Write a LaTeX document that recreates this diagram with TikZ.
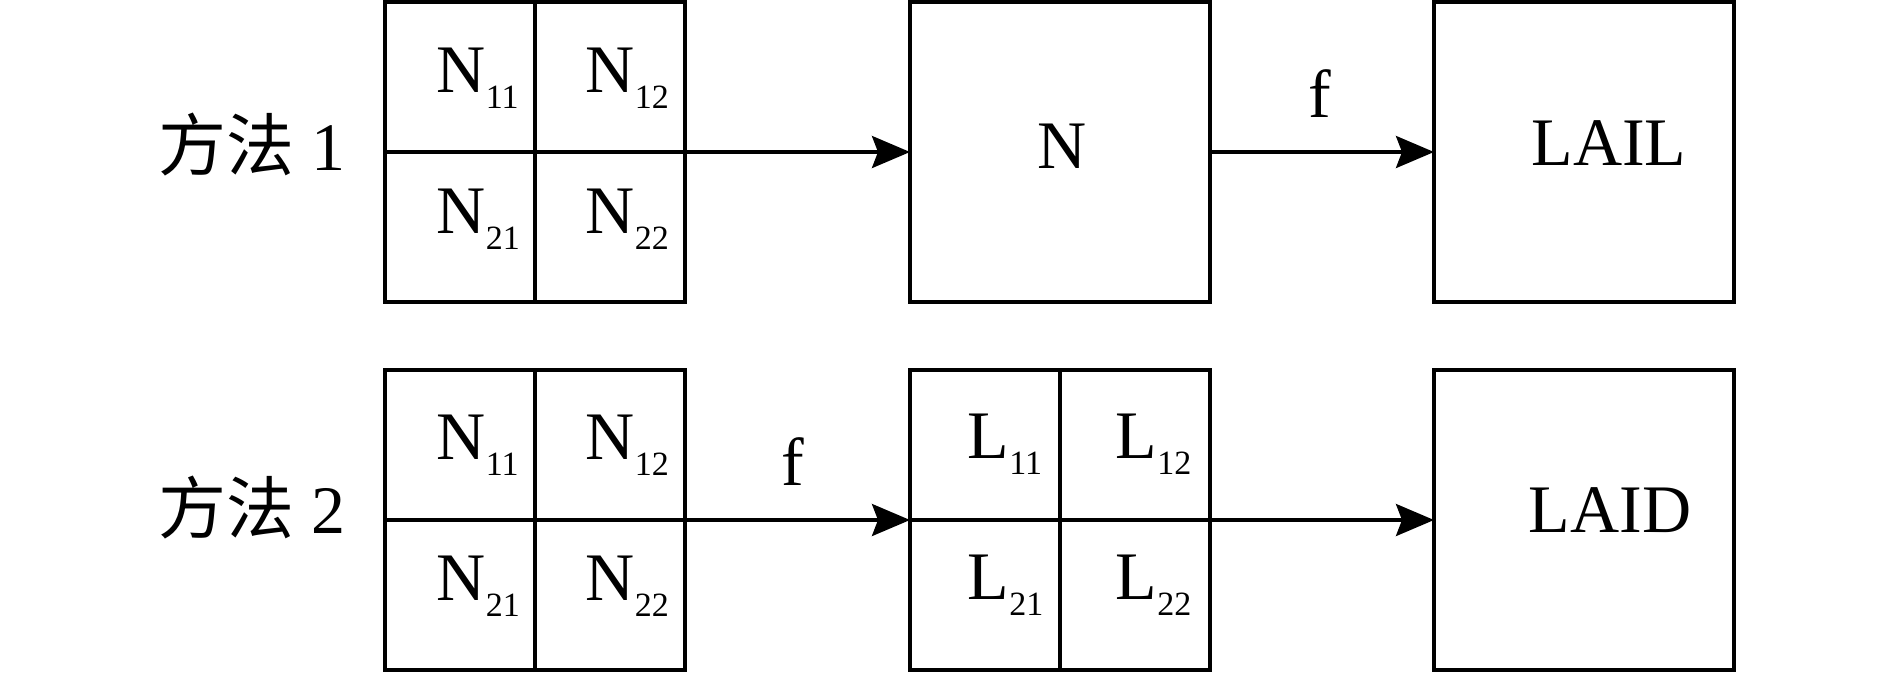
\documentclass[tikz,border=0pt]{standalone}
\usepackage{fontspec}
\setmainfont{Liberation Serif}
\newfontfamily\cjk{Noto Sans CJK SC}
\usetikzlibrary{arrows.meta}
\newcommand{\subs}[1]{\raisebox{-8pt}{\fontsize{17}{17}\selectfont #1}}
\begin{document}
\begin{tikzpicture}[x=0.5pt,y=-0.5pt,line width=1.75pt,
  box/.style={draw,minimum width=150pt,minimum height=150pt,inner sep=0pt,outer sep=0pt},
  lbl/.style={inner sep=0pt,anchor=base west,font=\fontsize{34}{40}\selectfont},
  ctr/.style={inner sep=0pt,anchor=base,font=\fontsize{34}{40}\selectfont},
  arr/.style={-{Stealth[length=19pt,width=16pt,inset=3pt]}}]
\useasboundingbox (0,0) rectangle (1890,676);
% boxes
\node[box] (g1) at (535,152) {};
\node[box] (nb) at (1060,152) {};
\node[box] (lail) at (1584,152) {};
\node[box] (g2) at (535,520) {};
\node[box] (lg) at (1060,520) {};
\node[box] (laid) at (1584,520) {};
% grid dividers
\draw (g1.north) -- (g1.south);
\draw (g1.west) -- (g1.east);
\draw (g2.north) -- (g2.south);
\draw (g2.west) -- (g2.east);
\draw (lg.north) -- (lg.south);
\draw (lg.west) -- (lg.east);
% arrows
\draw[arr] (g1.east) -- (nb.west);
\draw[arr] (nb.east) -- (lail.west);
\draw[arr] (g2.east) -- (lg.west);
\draw[arr] (lg.east) -- (laid.west);
% row labels
\node[lbl] (m1) at (157,170) {{\cjk 方法} 1};
\node[lbl] (m2) at (157,533) {{\cjk 方法} 2};
% top grid labels
\node[lbl] (a11) at (435,92) {N\subs{11}};
\node[lbl] (a12) at (584,92) {N\subs{12}};
\node[lbl] (a21) at (435,233) {N\subs{21}};
\node[lbl] (a22) at (584,233) {N\subs{22}};
% bottom grid labels
\node[lbl] (b11) at (435,459) {N\subs{11}};
\node[lbl] (b12) at (584,459) {N\subs{12}};
\node[lbl] (b21) at (435,600) {N\subs{21}};
\node[lbl] (b22) at (584,600) {N\subs{22}};
% L grid labels
\node[lbl] (l11) at (966,458) {L\subs{11}};
\node[lbl] (l12) at (1114,458) {L\subs{12}};
\node[lbl] (l21) at (966,599) {L\subs{21}};
\node[lbl] (l22) at (1114,599) {L\subs{22}};
% box texts
\node[ctr] (tn) at (1062,168) {N};
\node[ctr] (tlail) at (1609,165) {LAIL};
\node[ctr] (tlaid) at (1610,532) {LAID};
% f labels
\node[ctr] (f1) at (1320,117) {f};
\node[ctr] (f2) at (793,485) {f};
\end{tikzpicture}
\end{document}
